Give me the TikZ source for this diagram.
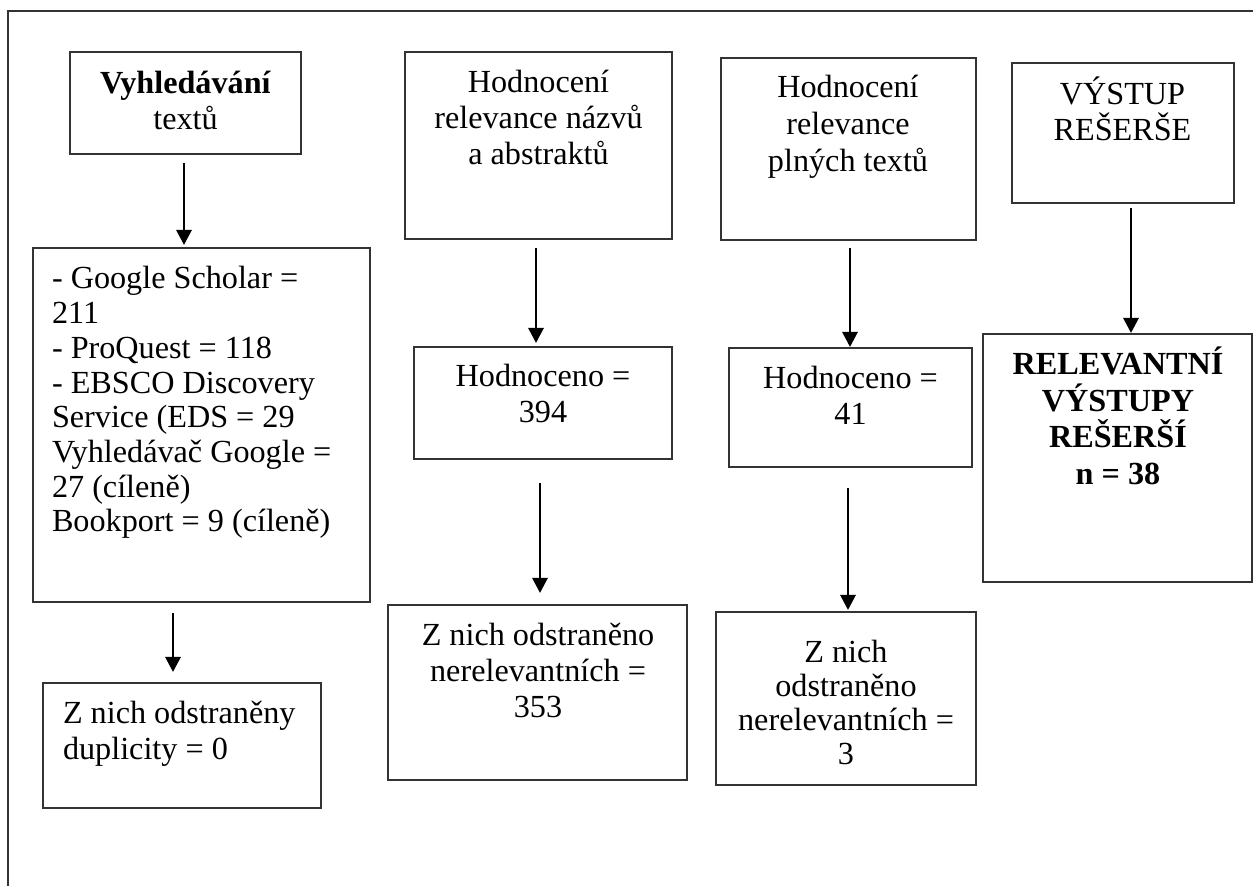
\documentclass[tikz,border=0pt]{standalone}
\usepackage{fontspec}
\setmainfont{Liberation Serif}
\usetikzlibrary{arrows.meta}
\newcommand\fstrut{\rule{0pt}{15pt}}
\begin{document}
\begin{tikzpicture}[x=0.5pt,y=-0.5pt,
  box/.style={draw=black!80, line width=0.7pt, rectangle, inner sep=0pt, outer sep=0pt},
  txt/.style={inner sep=0pt, outer sep=0pt, align=center, text=black, font=\fontsize{16.1}{18}\selectfont},
  arr/.style={draw=black, line width=1.4pt, -{Triangle[width=7.5pt,length=7.5pt]}}]
\useasboundingbox (0,0) rectangle (1253,886);
\fill[white] (0,0) rectangle (1253,886);
% outer frame
\draw[line width=0.7pt, draw=black!80] (8,886) -- (8,11) -- (1253,11);

% boxes
\node[box, minimum width=115.5pt, minimum height=51pt]   (b1)  at (185.5,103) {};
\node[box, minimum width=168.5pt, minimum height=177pt]  (b2)  at (201.5,425) {};
\node[box, minimum width=139pt,   minimum height=62.5pt] (b3)  at (182,745.5) {};
\node[box, minimum width=133.5pt, minimum height=93.5pt] (b4)  at (538.5,145.5) {};
\node[box, minimum width=129pt,   minimum height=56pt]   (b5)  at (543,403) {};
\node[box, minimum width=149.5pt, minimum height=87.5pt] (b6)  at (537.5,692.5) {};
\node[box, minimum width=127.5pt, minimum height=91pt]   (b7)  at (848.5,149) {};
\node[box, minimum width=121.5pt, minimum height=59.5pt] (b8)  at (850.5,407.5) {};
\node[box, minimum width=130pt,   minimum height=86.5pt] (b9)  at (846,698.5) {};
\node[box, minimum width=111pt,   minimum height=70pt]   (b10) at (1123,133) {};
\node[box, minimum width=134.5pt, minimum height=124pt]  (b11) at (1117.5,458) {};

% texts
\node[txt, anchor=north] (t1) at (185.5,64) {\fstrut\textbf{Vyhledávání}\\textů};
\node[txt, anchor=north west, align=left, font=\fontsize{16.1}{17.35}\selectfont] (t2) at (52,259)
  {\fstrut- Google Scholar =\\211\\- ProQuest = 118\\- EBSCO Discovery\\Service (EDS = 29\\Vyhledávač Google =\\27 (cíleně)\\Bookport = 9 (cíleně)};
\node[txt, anchor=north west, align=left] (t3) at (63,694) {\fstrut Z nich odstraněny\\duplicity = 0};
\node[txt, anchor=north] (t4) at (538.5,63) {\fstrut Hodnocení\\relevance názvů\\a abstraktů};
\node[txt, anchor=north] (t5) at (543,357) {\fstrut Hodnoceno =\\394};
\node[txt, anchor=north] (t6) at (538,615.7) {\fstrut Z nich odstraněno\\nerelevantních =\\353};
\node[txt, anchor=north, font=\fontsize{16.1}{18.5}\selectfont] (t7) at (848,68) {\fstrut Hodnocení\\relevance\\plných textů};
\node[txt, anchor=north] (t8) at (850.5,359) {\fstrut Hodnoceno =\\41};
\node[txt, anchor=north, font=\fontsize{16.1}{17}\selectfont] (t9) at (846,632.7) {\fstrut Z nich\\odstraněno\\nerelevantních =\\3};
\node[txt, anchor=north] (t10) at (1122.5,75) {\fstrut VÝSTUP\\REŠERŠE};
\node[txt, anchor=north, font=\bfseries\fontsize{16.1}{18.2}\selectfont] (t11) at (1118,345) {\fstrut RELEVANTNÍ\\VÝSTUPY\\REŠERŠÍ\\n = 38};

% arrows
\draw[arr, shorten <=4.5pt, shorten >=1.5pt] ([xshift=-0.75pt]b1.south) -- ([xshift=-0.75pt]b1.south |- b2.north);
\draw[arr, shorten <=5.5pt, shorten >=5.5pt] ([xshift=-14.25pt]b2.south) -- ([xshift=-14.25pt]b2.south |- b3.north);
\draw[arr, shorten <=4.5pt, shorten >=2pt] ([xshift=-1.25pt]b4.south) -- ([xshift=-1.25pt]b4.south |- b5.north);
\draw[arr, shorten <=12pt, shorten >=6pt] ([xshift=-1.5pt]b5.south) -- ([xshift=-1.5pt]b5.south |- b6.north);
\draw[arr, shorten <=4pt, shorten >=0.5pt] ([xshift=0.75pt]b7.south) -- ([xshift=0.75pt]b7.south |- b8.north);
\draw[arr, shorten <=10.5pt, shorten >=1pt] ([xshift=-1.25pt]b8.south) -- ([xshift=-1.25pt]b8.south |- b9.north);
\draw[arr, shorten <=2.5pt, shorten >=0.5pt] ([xshift=4pt]b10.south) -- ([xshift=4pt]b10.south |- b11.north);
\end{tikzpicture}
\end{document}
